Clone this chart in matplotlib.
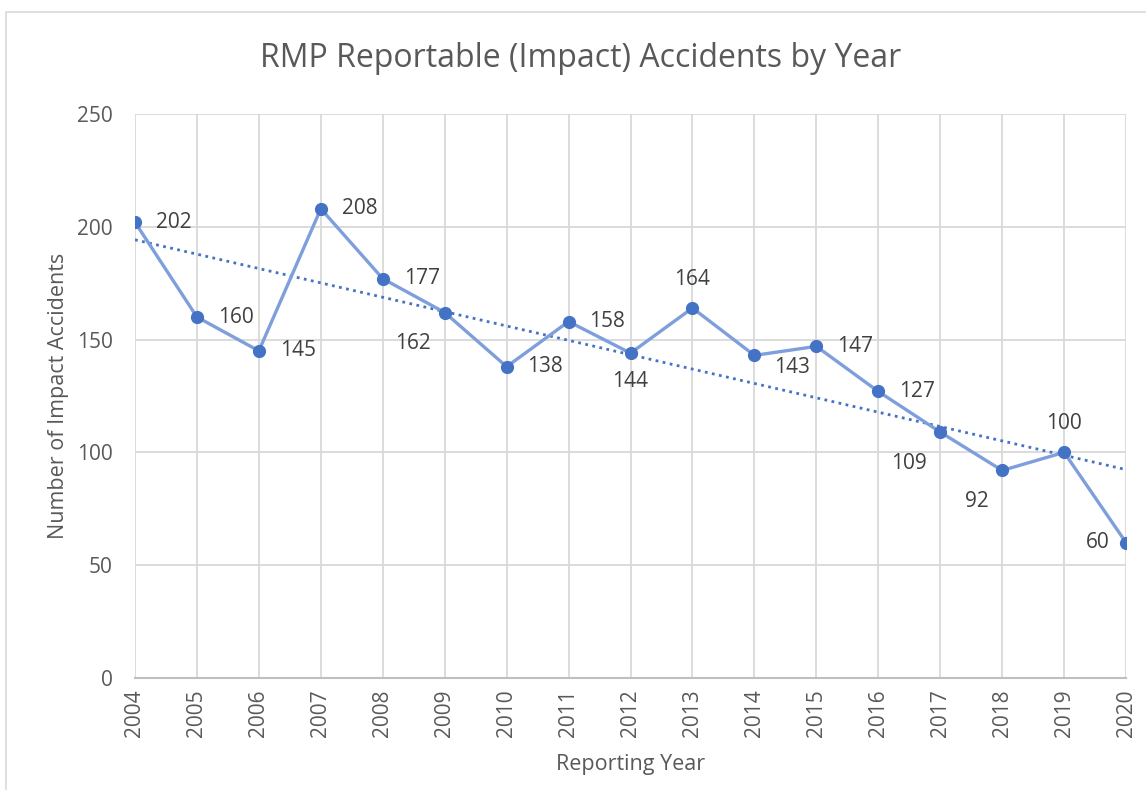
import numpy as np
import matplotlib.pyplot as plt

years = [2004, 2005, 2006, 2007, 2008, 2009, 2010, 2011, 2012, 2013,
         2014, 2015, 2016, 2017, 2018, 2019, 2020]
accidents = [202, 160, 145, 208, 177, 162, 138, 158, 144, 164,
             143, 147, 127, 109, 92, 100, 60]
# where each data label sits relative to its point
label_pos = ['r', 'r', 'r', 'r', 'r', 'bl', 'r', 'r', 'b', 't',
             'br', 'r', 'r', 'bl', 'bl', 't', 'l']

plt.rcParams['font.family'] = ['Open Sans', 'DejaVu Sans']
txt = '#595959'
grid = '#d9d9d9'

fig = plt.figure(figsize=(11.46, 7.9), dpi=100)
ax = fig.add_axes([0.1178, 0.1418, 0.8648, 0.7139])

# outer chart border like excel
fig.patches.append(plt.Rectangle((0.005, -0.01), 1.2, 0.995, transform=fig.transFigure,
                                 fill=False, edgecolor='#d9d9d9', lw=1.2))

x = np.arange(len(years))
ax.plot(x, accidents, color='#7f9fdc', lw=2.4, zorder=3)
ax.plot(x, accidents, 'o', color='#4472c4', ms=8.5, zorder=4)

# linear trendline
m, b = np.polyfit(x, accidents, 1)
ax.plot(x, m * x + b, color='#4472c4', lw=2, ls=(0, (1, 1.6)), zorder=2)

offs = {'r': (15, 0, 'left', 'center'), 'l': (-12, 0, 'right', 'center'),
        't': (0, 13, 'center', 'bottom'), 'b': (0, -13, 'center', 'top'),
        'bl': (-10, -15, 'right', 'top'), 'br': (14, -9, 'left', 'center')}
for xi, v, p in zip(x, accidents, label_pos):
    dx, dy, ha, va = offs[p]
    ax.annotate(str(v), (xi, v), xytext=(dx, dy), textcoords='offset points',
                ha=ha, va=va, fontsize=15, color='#404040')

ax.set_xlim(0, len(years) - 1)
ax.set_ylim(0, 250)
ax.set_yticks(range(0, 251, 50))
ax.set_xticks(x)
ax.set_xticklabels([str(y) for y in years], rotation=90)
ax.tick_params(length=0, labelsize=15, colors=txt)
ax.tick_params(axis='y', pad=16)
ax.tick_params(axis='x', pad=8)
ax.grid(True, color=grid, lw=1.3)
ax.set_axisbelow(True)
for s in ax.spines.values():
    s.set_visible(False)
ax.spines['bottom'].set_visible(True)
ax.spines['bottom'].set_color('#bfbfbf')
ax.spines['bottom'].set_linewidth(1.5)

fig.text(0.507, 0.926, 'RMP Reportable (Impact) Accidents by Year', fontsize=23,
         color=txt, ha='center', va='center')
ax.set_xlabel('Reporting Year', fontsize=15.5, color=txt, labelpad=12)
ax.set_ylabel('Number of Impact Accidents', fontsize=15.5, color=txt, labelpad=6)

fig.savefig('out.png', dpi=100)
